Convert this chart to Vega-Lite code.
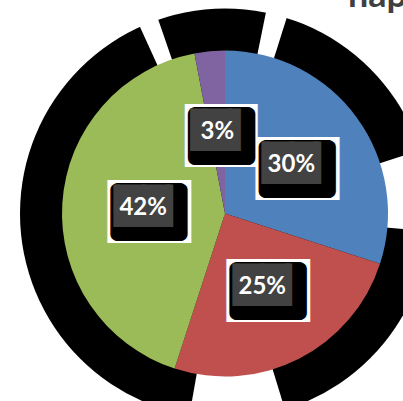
{
  "$schema": "https://vega.github.io/schema/vega-lite/v6.json",
  "width": 356,
  "height": 375,
  "autosize": {"type": "none"},
  "padding": {"left": 47, "top": 26, "right": 0, "bottom": 0},
  "background": "white",
  "config": {"view": {"stroke": null}},
  "title": {
    "text": "nap",
    "anchor": "end",
    "frame": "group",
    "orient": "top",
    "baseline": "alphabetic",
    "offset": 0,
    "dy": 34,
    "dx": 4,
    "font": "Lato",
    "fontSize": 36,
    "fontWeight": "bold",
    "color": "#404040"
  },
  "data": {
    "values": [
      {"cat": "A", "value": 30, "label": "30%"},
      {"cat": "B", "value": 25, "label": "25%"},
      {"cat": "C", "value": 42, "label": "42%"},
      {"cat": "D", "value": 3, "label": "3%"}
    ]
  },
  "layer": [
    {
      "data": {"values": [{}]},
      "mark": {"type": "arc", "theta": 0, "theta2": 6.2832, "outerRadius": 205, "fill": "black"},
      "encoding": {}
    },
    {
      "data": {"values": [{}]},
      "mark": {"type": "arc", "theta": 5.8556, "theta2": 5.9516, "outerRadius": 206, "fill": "white"},
      "encoding": {}
    },
    {
      "data": {"values": [{}]},
      "mark": {"type": "arc", "theta": 0.2007, "theta2": 0.3054, "outerRadius": 206, "fill": "white"},
      "encoding": {}
    },
    {
      "data": {"values": [{}]},
      "mark": {"type": "arc", "theta": 1.2566, "theta2": 1.6581, "outerRadius": 206, "fill": "white"},
      "encoding": {}
    },
    {
      "data": {"values": [{}]},
      "mark": {"type": "arc", "theta": 2.8449, "theta2": 3.3161, "outerRadius": 206, "fill": "white"},
      "encoding": {}
    },
    {
      "mark": {"type": "arc", "outerRadius": 163},
      "encoding": {
        "theta": {"field": "value", "type": "quantitative", "stack": true},
        "order": {"field": "cat", "type": "nominal"},
        "color": {
          "field": "cat",
          "type": "nominal",
          "scale": {"domain": ["A", "B", "C", "D"], "range": ["#4F81BD", "#C0504D", "#9BBB59", "#8064A2"]},
          "legend": null
        }
      }
    },
    {
      "mark": {"type": "text", "radius": 82, "font": "DejaVu Sans", "fontSize": 39.5, "fill": "white", "stroke": "white", "strokeWidth": 16, "strokeJoin": "miter", "align": "center", "baseline": "middle", "dx": 6, "dy": 5},
      "encoding": {
        "theta": {"field": "value", "type": "quantitative", "stack": true},
        "order": {"field": "cat", "type": "nominal"},
        "detail": {"field": "cat", "type": "nominal"},
        "text": {"condition": {"test": "datum.value < 10", "value": "▐█▍"}, "value": "▕██▏"}
      }
    },
    {
      "mark": {"type": "text", "radius": 82, "font": "DejaVu Sans", "fontSize": 37, "fill": "black", "stroke": "black", "strokeWidth": 14, "strokeJoin": "round", "align": "center", "baseline": "middle", "dx": 6, "dy": 6},
      "encoding": {
        "theta": {"field": "value", "type": "quantitative", "stack": true},
        "order": {"field": "cat", "type": "nominal"},
        "detail": {"field": "cat", "type": "nominal"},
        "text": {"condition": {"test": "datum.value < 10", "value": "▐█▍"}, "value": "▕██▏"}
      }
    },
    {
      "mark": {"type": "text", "radius": 82, "font": "DejaVu Sans", "fontSize": 32.5, "fill": "#424242", "stroke": "#424242", "strokeWidth": 4, "strokeJoin": "miter", "align": "center", "baseline": "middle", "dx": 0, "dy": -1},
      "encoding": {
        "theta": {"field": "value", "type": "quantitative", "stack": true},
        "order": {"field": "cat", "type": "nominal"},
        "detail": {"field": "cat", "type": "nominal"},
        "text": {"condition": {"test": "datum.value < 10", "value": "▐█▍"}, "value": "▕██▏"}
      }
    },
    {
      "mark": {"type": "text", "radius": 82, "font": "Lato", "fontSize": 24, "fontWeight": "bold", "fill": "white", "align": "center", "baseline": "middle"},
      "encoding": {
        "theta": {"field": "value", "type": "quantitative", "stack": true},
        "order": {"field": "cat", "type": "nominal"},
        "detail": {"field": "cat", "type": "nominal"},
        "text": {"field": "label", "type": "nominal"}
      }
    }
  ]
}
